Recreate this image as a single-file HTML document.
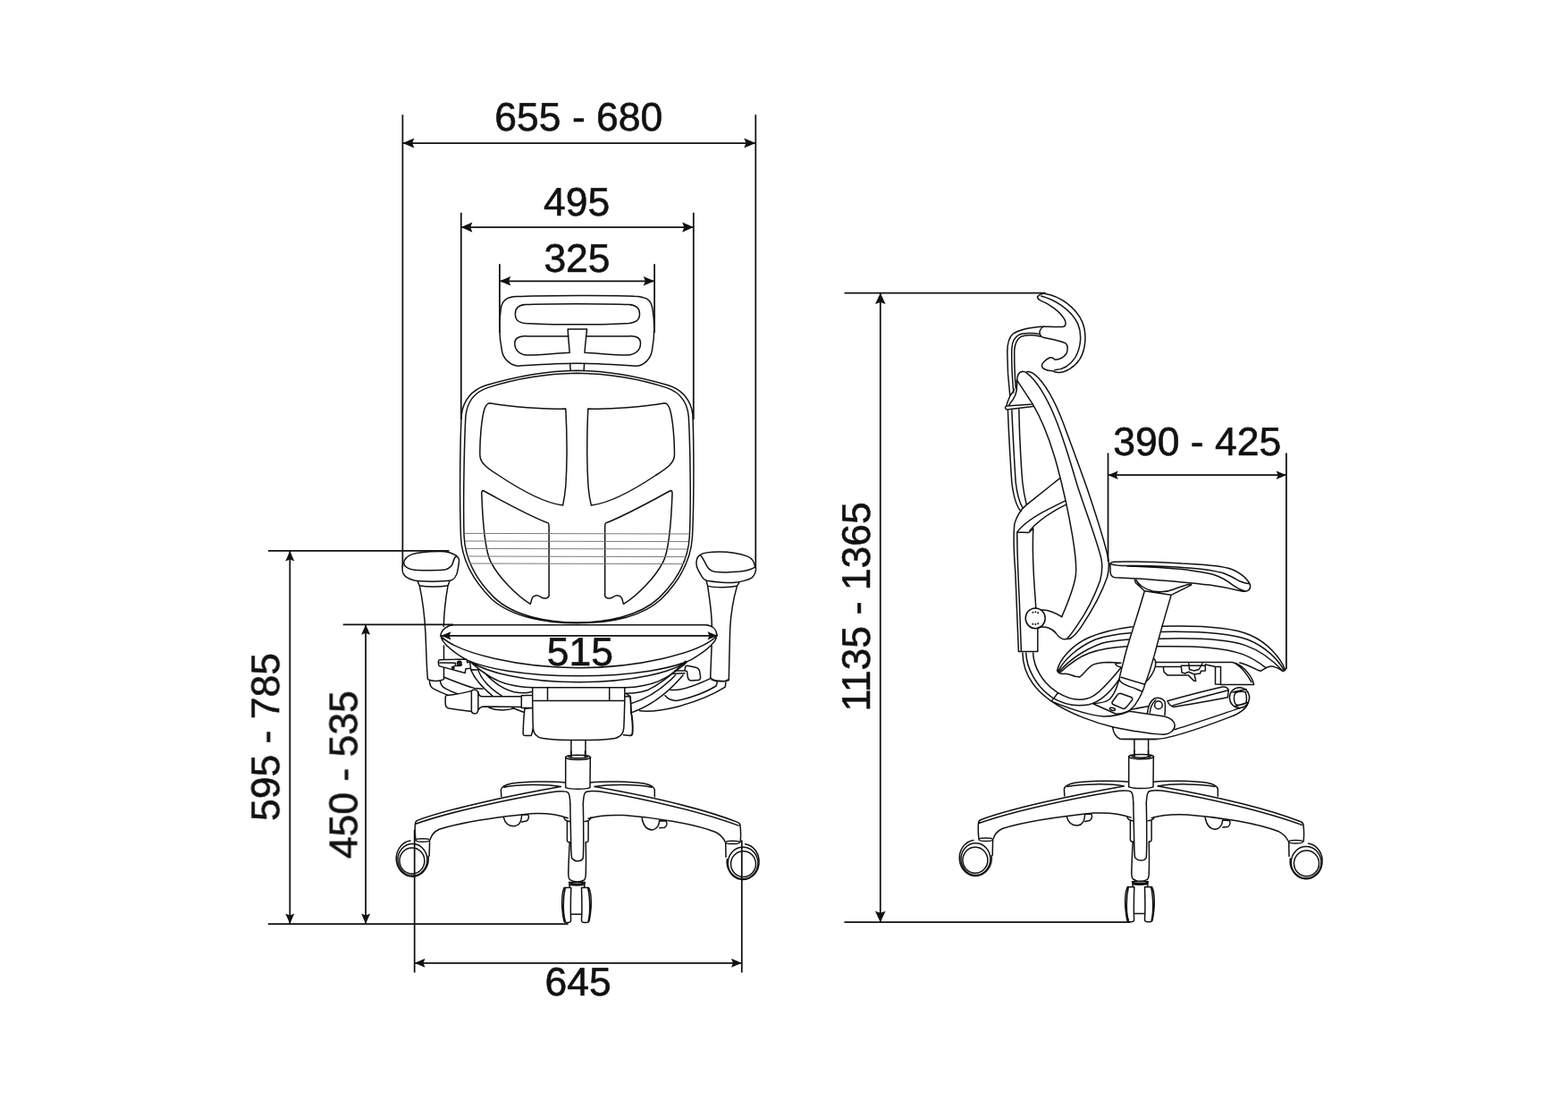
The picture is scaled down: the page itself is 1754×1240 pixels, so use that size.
<!DOCTYPE html>
<html lang="en"><head><meta charset="utf-8"><title>Chair dimensions</title>
<style>
html,body{margin:0;padding:0;background:#fff;}
body{width:1754px;height:1240px;overflow:hidden;}
svg{display:block;}
.c{fill:none;stroke:#111;stroke-width:1.5;stroke-linecap:round;stroke-linejoin:round;}
.g{fill:none;stroke:#7a7a7a;stroke-width:1.0;}
.k{fill:#111;stroke:none;}
.d{fill:none;stroke:#111;stroke-width:1.75;}
.a{fill:#111;stroke:none;}
.t{font-family:"Liberation Sans","DejaVu Sans",sans-serif;fill:#111;stroke:#111;stroke-width:0.6;text-anchor:middle;opacity:0.999;text-rendering:geometricPrecision;}
</style></head><body>
<svg width="1754" height="1240" viewBox="0 0 1754 1240">
<rect width="1754" height="1240" fill="#fff"/>
<g class="c">
<path d="M 577.8,331.6 C 599.7,330.4 689.5,330.0 709.5,331.2 C 721.4,331.6 728.4,334.0 730.0,345.9 C 732.4,359.9 732.4,375.9 729.4,391.8 C 727.8,401.8 719.5,408.8 712.5,409.2 C 689.5,407.8 669.6,406.2 645.6,406.2 C 621.7,406.2 601.7,407.8 579.8,409.2 C 571.8,408.8 562.8,401.8 561.4,391.8 C 558.2,375.9 558.2,359.9 560.2,345.9 C 561.4,335.0 567.8,332.0 577.8,331.6 Z M 587.7,340.6 C 609.7,339.4 681.5,339.4 703.5,340.6 C 712.5,341.2 715.5,344.9 715.5,350.9 C 715.5,357.9 711.5,360.5 703.5,361.5 C 681.5,363.3 609.7,363.3 587.7,361.5 C 579.8,360.5 576.4,357.9 576.4,350.9 C 576.4,344.9 579.4,341.2 587.7,340.6 Z M 636.0,376.1 L 589.7,375.9 C 580.8,375.5 575.8,377.9 575.8,383.9 C 575.8,390.8 580.8,396.8 589.7,397.0 C 605.7,396.8 621.7,395.0 637.2,394.2 M 655.6,376.1 L 703.5,375.9 C 712.5,375.5 716.5,377.9 716.5,383.9 C 716.5,390.8 711.5,396.8 701.5,397.0 C 685.5,396.8 669.6,395.0 654.0,394.2 M 637.2,394.2 C 636.6,385.9 635.6,377.9 635.2,367.9 L 656.6,367.9 C 655.6,377.9 654.6,385.9 654.0,394.2 M 637.6,406.4 L 638.2,413.8 M 653.6,406.4 L 653.2,413.8 M 547.8,450.7 C 569.8,454.7 609.7,458.1 632.8,456.9 C 634.0,479.6 634.4,519.6 632.8,543.5 C 632.0,553.5 630.8,559.5 629.6,565.1 C 609.7,562.5 581.8,547.5 557.8,531.5 C 543.8,522.6 537.5,517.6 536.9,509.6 C 536.5,491.6 538.8,467.7 541.8,457.7 C 543.4,452.7 544.8,450.7 547.8,450.7 Z M 743.4,450.7 C 721.4,454.7 681.5,458.1 657.8,456.9 C 656.8,479.6 656.4,519.6 658.0,543.5 C 658.8,553.5 660.0,559.5 661.4,565.1 C 681.5,562.5 709.5,547.5 733.4,531.5 C 747.4,522.6 753.8,517.6 754.4,509.6 C 754.8,491.6 752.4,467.7 749.4,457.7 C 747.8,452.7 746.4,450.7 743.4,450.7 Z M 645.6,414.2 C 609.7,414.8 573.8,421.8 543.8,430.8 C 527.9,435.8 517.9,447.8 516.3,463.7 C 514.7,490.1 513.9,559.9 515.5,599.8 C 516.3,623.8 527.9,647.7 549.8,669.7 C 573.8,691.2 613.7,696.8 645.6,696.8 M 645.6,414.2 C 681.5,414.8 717.5,421.8 747.4,430.8 C 763.4,435.8 773.3,447.8 774.9,463.7 C 776.1,490.1 776.5,559.9 774.5,599.8 C 773.3,623.8 761.8,647.7 739.8,669.7 C 716.5,691.2 677.5,696.8 645.6,696.8 M 645.6,417.2 C 609.7,417.8 573.8,424.2 545.8,433.4 C 529.9,438.8 522.3,449.8 520.9,465.7 C 519.5,490.1 517.9,559.9 519.1,599.8 C 520.3,623.8 530.9,646.7 552.8,668.1 C 574.8,689.2 613.7,696.0 645.6,696.0 M 645.6,417.2 C 681.5,417.8 717.5,424.2 745.4,433.4 C 761.4,438.8 768.9,449.8 770.3,465.7 C 771.7,490.1 773.3,559.9 771.3,599.8 C 770.1,623.8 759.6,646.7 737.6,668.1 C 715.7,689.2 677.5,696.0 645.6,696.0 M 540.2,548.5 C 563.8,560.9 589.7,575.9 613.3,584.9 C 614.1,585.9 614.1,586.9 614.1,588.8 L 614.1,666.7 C 612.7,669.3 608.7,670.1 604.7,667.3 C 600.7,664.7 596.7,665.7 595.3,668.7 C 594.1,671.7 594.1,673.7 593.3,675.3 C 577.8,665.7 557.8,645.7 548.8,627.8 C 541.8,613.8 539.8,579.9 538.8,551.9 C 538.8,549.5 539.2,548.5 540.2,548.5 Z M 750.4,548.5 C 726.8,560.9 700.9,575.9 677.5,584.9 C 676.7,585.9 676.7,586.9 676.7,588.8 L 676.7,666.7 C 678.1,669.3 682.1,670.1 686.1,667.3 C 690.1,664.7 694.1,665.7 695.5,668.7 C 696.7,671.7 696.7,673.7 697.5,675.3 C 713.1,665.7 733.0,645.7 742.0,627.8 C 749.0,613.8 751.0,579.9 752.0,551.9 C 752.0,549.5 751.6,548.5 750.4,548.5 Z M 451.6,629.7 C 452.0,625.9 455.6,621.9 460.6,619.9 C 466.6,617.9 479.5,616.7 491.9,616.5 C 499.5,616.5 506.5,618.3 510.9,621.7 C 508.5,622.9 507.5,625.9 506.9,628.5 C 506.1,631.9 503.5,635.5 497.7,637.1 C 493.5,637.9 469.6,637.9 463.6,637.3 C 457.6,636.7 452.6,634.3 451.6,629.7 Z M 450.2,632.9 C 450.0,636.9 450.2,639.9 451.0,641.1 C 452.0,643.9 454.6,646.9 463.6,649.1 C 471.6,650.5 495.5,650.5 503.5,649.1 C 507.5,648.3 510.5,643.9 511.5,639.9 C 512.5,634.9 513.5,629.9 513.5,625.9 C 513.1,623.9 511.9,622.5 510.9,621.7 M 467.0,649.7 C 468.0,652.3 468.8,653.9 469.2,654.7 C 477.5,656.5 491.5,656.5 501.1,654.7 C 501.7,653.5 502.3,651.9 502.9,649.7 M 469.2,654.7 C 472.6,669.8 475.1,689.8 476.1,709.7 C 476.9,729.7 477.1,745.7 478.5,759.6 C 484.5,762.0 490.5,762.0 496.5,759.6 L 496.5,746.9 M 496.5,737.3 L 496.5,721.9 M 496.3,700.6 C 496.7,683.8 499.1,665.8 501.1,654.7 M 783.2,620.5 C 785.8,618.5 795.7,617.1 804.9,617.1 C 815.7,617.1 829.7,619.9 836.3,622.1 C 840.6,623.9 844.0,627.9 844.6,634.1 C 841.6,636.3 833.7,638.3 827.7,639.1 C 819.7,639.9 805.7,639.9 799.1,639.3 C 794.7,638.3 792.2,635.5 791.2,633.7 C 789.4,630.5 786.8,624.9 785.0,622.7 C 784.4,621.9 783.8,621.1 783.2,620.5 Z M 783.2,620.5 C 780.8,621.5 779.4,623.9 779.0,628.5 C 778.8,631.9 779.4,634.9 780.8,636.9 C 782.8,640.9 784.2,642.9 785.0,644.5 C 786.2,646.9 788.8,648.7 790.8,649.3 C 799.7,651.1 815.7,651.9 822.1,651.3 C 827.7,650.9 837.7,648.3 840.8,646.1 C 843.6,643.9 845.2,639.9 845.6,636.5 L 845.4,634.1 M 790.2,649.7 C 790.8,651.9 791.2,653.9 791.6,655.1 C 799.7,657.3 815.7,657.3 824.5,655.1 C 825.3,653.9 826.1,652.5 826.7,651.3 M 791.6,655.1 C 793.7,669.8 796.3,683.8 796.3,700.6 M 796.1,722.3 C 795.7,733.7 795.1,745.7 794.7,757.6 C 797.7,761.6 811.7,762.6 815.3,760.6 C 815.7,741.7 816.1,719.7 816.7,701.8 C 817.7,683.8 820.9,667.8 824.5,655.1 M 507.8,698.8 L 789.3,698.8 C 796.4,699.1 801.4,703.5 802.1,710.7 M 507.8,698.8 C 501.4,698.8 493.5,703.5 492.8,711.1 M 492.8,711.1 C 512.8,731.3 584.0,746.7 647.5,746.7 C 710.9,746.7 782.1,731.3 802.1,710.7 M 493.5,713.1 C 496.4,720.6 507.1,729.2 521.6,737.6 C 541.3,747.0 584.0,755.8 647.5,755.8 C 710.9,755.8 753.6,747.0 773.3,737.6 C 787.8,729.2 798.5,720.6 801.4,713.1 M 526.4,740.0 C 544.1,751.3 584.0,762.7 647.5,762.7 C 710.9,762.7 750.8,751.3 768.5,740.0 M 528.0,741.6 C 541.3,753.4 558.4,764.1 574.9,766.5 C 584.0,768.1 589.7,768.7 595.4,768.7 L 699.8,768.7 C 706.6,768.7 712.3,768.1 720.0,766.5 C 736.5,764.1 753.6,753.4 766.9,741.6 M 526.7,748.9 C 530.6,758.4 538.4,767.7 550.7,777.9 M 534.7,748.9 C 538.4,759.1 547.0,769.1 561.1,777.9 M 543.4,753.7 C 551.2,762.0 562.6,770.5 574.9,773.8 C 582.6,775.2 589.7,775.2 594.7,773.5 M 526.7,748.7 L 534.7,748.9 M 595.7,768.7 L 595.7,783.4 M 612.5,768.7 L 612.5,783.4 M 681.7,768.7 L 681.7,783.4 M 698.8,768.7 L 698.8,783.4 M 595.7,783.4 L 698.8,783.4 M 595.7,783.4 C 595.9,796.9 596.0,806.9 596.3,814.0 C 596.9,821.8 601.1,824.7 606.8,825.4 C 626.8,828.3 669.5,828.3 688.1,825.4 C 694.5,824.0 697.3,820.4 697.8,814.0 C 698.3,804.0 698.6,792.6 698.8,783.4 M 586.9,792.6 L 595.4,791.5 M 586.9,792.6 C 585.7,804.0 585.2,814.0 585.2,821.1 C 585.5,822.3 586.2,822.6 587.6,822.6 L 594.0,822.6 C 595.1,821.1 595.7,816.9 596.3,814.0 M 699.5,778.4 L 705.2,779.1 C 705.9,786.9 705.9,795.5 706.6,801.2 C 707.5,806.9 707.7,815.4 707.3,821.1 C 706.6,822.6 705.9,822.6 704.5,822.6 L 697.3,821.8 M 638.9,827.5 L 638.9,845.4 M 655.0,827.5 L 655.0,845.4 M 499.6,777.4 C 507.1,776.7 518.5,775.2 527.4,772.4 C 528.2,771.5 529.6,771.1 531.3,771.2 C 533.6,771.5 534.7,773.4 534.9,775.5 L 534.9,793.3 C 534.7,796.2 533.9,797.9 531.3,797.9 C 529.0,797.9 528.0,796.9 527.4,795.6 L 502.1,792.1 C 499.2,791.5 498.2,789.1 498.2,786.2 L 498.2,780.1 C 498.2,778.7 498.8,777.7 499.6,777.4 Z M 527.4,772.4 L 527.4,795.6 M 534.9,773.4 C 535.3,776.2 536.3,778.4 538.7,778.8 L 583.3,778.7 M 534.9,794.3 C 535.8,791.9 538.4,790.2 542.0,790.1 L 583.3,790.5 M 583.3,777.7 L 595.4,777.2 M 583.3,777.7 L 583.3,791.5 L 595.4,791.5 M 547.0,791.2 C 555.5,794.8 566.9,794.8 575.5,791.9 M 572.6,791.2 L 585.7,796.2 M 491.8,737.7 L 520.2,736.9 C 521.0,736.9 521.6,737.0 522.0,737.3 L 522.9,740.9 L 525.6,740.0 L 526.6,747.3 L 521.0,747.7 L 520.2,752.6 C 512.8,750.6 505.6,748.7 497.4,746.4 C 494.2,745.6 492.1,745.2 491.4,744.7 C 490.4,743.9 490.1,739.9 490.7,738.5 C 491.0,738.0 491.4,737.7 491.8,737.7 Z M 491.8,741.0 L 509.2,741.2 L 509.6,742.3 L 509.2,744.6 L 505.6,746.0 M 509.2,744.6 L 514.6,744.6 L 516.5,743.3"/>
<ellipse cx="513.8" cy="741.5" rx="2.3" ry="2.3"/>
<ellipse cx="513.8" cy="741.5" rx="0.9" ry="0.9"/>
<ellipse cx="506.9" cy="746.9" rx="1.1" ry="1.1"/>
<path d="M 480.5,761.0 C 480.5,765.5 482.1,768.4 484.5,769.8 C 490.0,772.7 495.7,775.2 500.6,777.1 M 492.5,761.0 C 492.8,765.5 494.9,768.1 498.2,769.8 C 502.8,772.2 507.1,774.1 511.2,775.5 M 497.1,757.3 C 507.1,761.3 519.9,766.5 530.4,769.4 L 540.1,770.2 M 768.9,744.2 L 778.2,746.3 C 781.0,747.0 782.4,748.4 782.7,751.3 L 783.6,757.0 C 783.6,759.6 782.4,760.6 780.3,760.6 L 772.5,761.0 C 770.3,760.6 769.6,759.1 769.3,757.0 L 768.5,750.6 L 766.0,749.9 L 766.8,744.9 Z M 754.6,749.9 L 766.0,749.9 M 751.1,753.4 L 766.0,752.7 M 766.8,739.2 C 756.8,749.9 739.7,764.1 725.4,771.2 C 716.9,774.4 708.3,775.2 700.5,775.2 M 755.4,754.9 C 745.4,765.5 728.3,779.8 705.5,786.9 M 763.9,754.9 C 753.9,767.0 734.0,786.9 706.2,796.9 M 699.8,775.2 L 704.8,778.4 C 705.8,784.1 705.5,792.6 705.8,796.9 C 707.6,801.2 708.0,811.2 707.6,819.7 C 707.2,821.8 706.2,822.6 704.8,822.6 M 744.0,777.7 C 746.8,781.2 751.1,783.4 756.8,783.4 C 771.0,781.2 789.6,774.1 801.0,767.0 C 801.7,765.5 802.1,764.1 802.1,762.7 M 749.7,771.2 C 756.8,772.7 771.0,769.8 795.3,758.4 M 715.5,794.8 C 728.3,796.2 742.5,794.0 756.8,790.5 C 778.2,784.8 799.5,775.5 810.9,768.4 C 811.7,767.0 811.8,764.8 811.7,762.7 M 796.0,759.8 C 799.5,762.0 810.9,763.0 814.5,759.8"/>
<ellipse cx="646.6" cy="846.8" rx="14.0" ry="2.6"/>
<path d="M 638.8,840.0 L 638.8,846.0 M 654.5,840.0 L 654.5,846.0 M 636.0,846.4 C 640.9,848.3 652.3,848.3 657.3,846.4 M 632.7,846.8 L 632.7,880.6 C 638.1,882.8 655.2,882.8 660.0,880.6 L 660.3,846.8 M 632.4,874.9 C 615.3,873.1 586.8,873.9 572.5,875.9 C 565.4,877.3 561.1,879.6 560.4,882.8 L 560.8,890.6 M 564.0,880.2 C 579.7,876.8 612.4,876.8 627.4,879.6 M 660.3,874.9 C 677.4,873.1 705.9,873.9 720.2,875.9 C 727.3,877.3 731.6,879.6 732.3,882.8 L 732.3,891.0 M 728.7,880.2 C 713.1,876.8 680.3,876.8 665.3,879.6 M 464.4,922.0 C 464.4,919.5 465.1,918.1 466.8,917.4 C 501.3,904.4 572.5,889.2 627.4,879.6 M 465.6,921.0 C 501.3,908.1 572.5,892.7 615.3,885.9 C 626.7,884.2 633.1,883.9 635.5,886.3 C 637.4,888.5 637.7,894.2 637.8,899.0 M 464.4,922.0 C 464.1,926.9 464.2,932.6 464.9,938.3 M 481.3,938.3 C 482.5,934.1 485.6,929.8 491.3,927.2 C 515.5,919.8 558.3,913.4 593.9,909.8 C 608.2,909.1 623.8,910.6 635.2,914.8"/>
<ellipse cx="472.8" cy="939.5" rx="7.8" ry="1.7"/>
<path d="M 480.6,939.8 L 480.2,956.9 M 828.1,924.1 C 828.1,922.0 827.4,920.2 825.1,919.4 C 786.3,904.1 719.3,889.2 665.3,879.6 M 826.2,923.1 C 786.3,908.1 719.3,892.7 677.4,885.9 C 666.0,884.2 656.9,883.9 654.6,886.3 C 652.8,888.5 652.5,894.2 652.3,899.0 M 828.1,924.1 C 828.7,929.8 828.7,936.9 828.1,941.5 M 811.3,941.5 C 809.1,936.9 806.3,933.4 800.6,930.5 C 776.4,921.2 733.6,914.1 698.0,911.6 C 683.7,911.0 668.0,912.0 658.1,915.3"/>
<ellipse cx="819.5" cy="941.9" rx="7.8" ry="1.7"/>
<path d="M 811.7,941.9 L 812.0,958.3 M479.1,957.2 A18.0 20.1 0 1 1 458.9,940.1"/>
<ellipse cx="461.4" cy="961.3" rx="16.5" ry="17.8"/>
<ellipse cx="460.9" cy="962.4" rx="14.0" ry="14.5"/>
<path d="M833.6,943.7 A18.0 20.0 0 1 1 813.3,960.7"/>
<ellipse cx="831.1" cy="965.0" rx="16.8" ry="17.8"/>
<ellipse cx="831.5" cy="966.1" rx="14.0" ry="14.3"/>
<path d="M 563.3,913.8 C 564.7,919.8 569.0,923.8 575.4,923.8 C 580.4,923.4 583.2,919.1 583.6,912.0 M 583.9,911.0 L 590.3,910.7 C 592.2,912.7 591.8,916.3 588.9,918.1 L 583.6,919.1 M 718.1,914.8 C 719.5,922.7 723.6,927.7 729.7,927.9 C 735.0,926.9 737.3,923.4 737.6,917.7 M 737.6,917.7 L 745.0,918.1 C 746.7,920.5 746.1,923.4 743.6,925.2 L 737.9,925.8 M 637.8,899.0 C 638.1,914.1 638.5,932.6 638.7,942.6 C 638.8,951.2 639.0,955.5 639.5,959.0 C 642.4,964.0 650.2,964.0 652.3,959.4 C 652.8,951.2 652.8,932.6 652.6,914.1 L 652.3,899.0 M 637.2,941.6 C 636.7,951.2 636.0,965.4 635.8,976.5 C 635.8,980.4 636.4,982.5 637.5,983.7 C 642.4,986.5 648.8,986.5 653.5,984.0 C 654.9,982.5 655.3,980.4 655.3,976.5 C 655.6,965.4 655.5,951.2 655.2,941.6 M 631.0,914.1 C 631.4,916.7 633.1,918.1 637.2,918.4 M 661.0,914.1 C 660.5,917.0 658.8,918.2 654.2,918.4 M 634.4,918.4 L 634.4,939.8 C 634.7,941.5 636.0,941.9 637.2,941.6 M 658.1,918.4 L 658.1,939.8 C 657.8,941.5 656.6,941.9 655.2,941.6 M 636.4,986.4 L 654.5,986.4 M 636.8,986.4 L 637.2,992.4 M 654.1,986.4 L 653.7,992.4 M 636.8,987.6 C 641.6,988.6 649.5,988.6 654.1,987.6 M 637.2,989.2 C 641.6,990.0 649.5,990.0 653.7,989.2 M 631.2,992.4 L 638.8,992.4 C 638.4,1003.8 638.2,1019.7 638.6,1029.3 C 638.2,1031.1 637.2,1031.5 635.6,1031.5 L 633.2,1031.5 C 632.0,1031.5 631.2,1030.9 630.8,1029.7 C 628.8,1019.7 628.2,1007.8 629.2,999.8 C 629.6,996.8 630.4,994.2 631.2,992.4 Z M 632.2,993.2 C 630.6,999.8 630.0,1011.8 630.6,1020.7 C 631.0,1024.7 631.6,1027.7 632.4,1029.7 M 658.5,992.4 L 650.5,992.4 C 650.9,1003.8 651.1,1019.7 650.5,1029.3 C 650.9,1031.1 651.9,1031.5 653.5,1031.5 L 656.3,1031.5 C 657.7,1031.5 658.7,1030.9 659.1,1029.7 C 661.1,1019.7 661.7,1007.8 660.7,999.8 C 660.3,996.8 659.5,994.2 658.5,992.4 Z M 657.7,993.2 C 659.3,999.8 659.9,1011.8 659.5,1020.7 C 659.1,1024.7 658.7,1027.7 658.1,1029.7 M 638.8,1022.3 L 650.5,1022.3"/>
<ellipse cx="1276.6" cy="846.1" rx="14.0" ry="2.6"/>
<path d="M 1268.8,839.3 L 1268.8,845.3 M 1284.5,839.3 L 1284.5,845.3 M 1266.0,845.7 C 1270.9,847.6 1282.3,847.6 1287.3,845.7 M 1262.7,846.1 L 1262.7,879.9 C 1268.1,882.1 1285.2,882.1 1290.0,879.9 L 1290.3,846.1 M 1262.4,874.2 C 1245.3,872.4 1216.8,873.2 1202.5,875.2 C 1195.4,876.6 1191.1,878.9 1190.4,882.1 L 1190.8,889.9 M 1194.0,879.5 C 1209.7,876.1 1242.4,876.1 1257.4,878.9 M 1290.3,874.2 C 1307.4,872.4 1335.9,873.2 1350.2,875.2 C 1357.3,876.6 1361.6,878.9 1362.3,882.1 L 1362.3,890.3 M 1358.7,879.5 C 1343.1,876.1 1310.3,876.1 1295.3,878.9 M 1094.4,921.3 C 1094.4,918.8 1095.1,917.4 1096.8,916.7 C 1131.3,903.7 1202.5,888.5 1257.4,878.9 M 1095.6,920.3 C 1131.3,907.4 1202.5,892.0 1245.3,885.2 C 1256.7,883.5 1263.1,883.2 1265.5,885.6 C 1267.4,887.8 1267.7,893.5 1267.8,898.3 M 1094.4,921.3 C 1094.1,926.2 1094.2,931.9 1094.9,937.6 M 1111.3,937.6 C 1112.5,933.4 1115.6,929.1 1121.3,926.5 C 1145.5,919.1 1188.3,912.7 1223.9,909.1 C 1238.2,908.4 1253.8,909.9 1265.2,914.1"/>
<ellipse cx="1102.8" cy="938.8" rx="7.8" ry="1.7"/>
<path d="M 1110.6,939.1 L 1110.2,956.2 M 1458.1,923.4 C 1458.1,921.3 1457.4,919.5 1455.1,918.7 C 1416.3,903.4 1349.3,888.5 1295.3,878.9 M 1456.2,922.4 C 1416.3,907.4 1349.3,892.0 1307.4,885.2 C 1296.0,883.5 1286.9,883.2 1284.6,885.6 C 1282.8,887.8 1282.5,893.5 1282.3,898.3 M 1458.1,923.4 C 1458.7,929.1 1458.7,936.2 1458.1,940.8 M 1441.3,940.8 C 1439.1,936.2 1436.3,932.7 1430.6,929.8 C 1406.4,920.5 1363.6,913.4 1328.0,910.9 C 1313.7,910.3 1298.0,911.3 1288.1,914.6"/>
<ellipse cx="1449.5" cy="941.2" rx="7.8" ry="1.7"/>
<path d="M 1441.7,941.2 L 1442.0,957.6 M1109.1,956.5 A18.0 20.1 0 1 1 1088.9,939.4"/>
<ellipse cx="1091.4" cy="960.6" rx="16.5" ry="17.8"/>
<ellipse cx="1090.9" cy="961.7" rx="14.0" ry="14.5"/>
<path d="M1463.6,943.0 A18.0 20.0 0 1 1 1443.3,960.0"/>
<ellipse cx="1461.1" cy="964.3" rx="16.8" ry="17.8"/>
<ellipse cx="1461.5" cy="965.4" rx="14.0" ry="14.3"/>
<path d="M 1193.3,913.1 C 1194.7,919.1 1199.0,923.1 1205.4,923.1 C 1210.4,922.7 1213.2,918.4 1213.6,911.3 M 1213.9,910.3 L 1220.3,910.0 C 1222.2,912.0 1221.8,915.6 1218.9,917.4 L 1213.6,918.4 M 1348.1,914.1 C 1349.5,922.0 1353.6,927.0 1359.7,927.2 C 1365.0,926.2 1367.3,922.7 1367.6,917.0 M 1367.6,917.0 L 1375.0,917.4 C 1376.7,919.8 1376.1,922.7 1373.6,924.5 L 1367.9,925.1 M 1267.8,898.3 C 1268.1,913.4 1268.5,931.9 1268.7,941.9 C 1268.8,950.5 1269.0,954.8 1269.5,958.3 C 1272.4,963.3 1280.2,963.3 1282.3,958.7 C 1282.8,950.5 1282.8,931.9 1282.6,913.4 L 1282.3,898.3 M 1267.2,940.9 C 1266.7,950.5 1266.0,964.7 1265.8,975.8 C 1265.8,979.7 1266.4,981.8 1267.5,983.0 C 1272.4,985.8 1278.8,985.8 1283.5,983.3 C 1284.9,981.8 1285.3,979.7 1285.3,975.8 C 1285.6,964.7 1285.5,950.5 1285.2,940.9 M 1261.0,913.4 C 1261.4,916.0 1263.1,917.4 1267.2,917.7 M 1291.0,913.4 C 1290.5,916.3 1288.8,917.5 1284.2,917.7 M 1264.4,917.7 L 1264.4,939.1 C 1264.7,940.8 1266.0,941.2 1267.2,940.9 M 1288.1,917.7 L 1288.1,939.1 C 1287.8,940.8 1286.6,941.2 1285.2,940.9 M 1266.4,985.7 L 1284.5,985.7 M 1266.8,985.7 L 1267.2,991.7 M 1284.1,985.7 L 1283.7,991.7 M 1266.8,986.9 C 1271.6,987.9 1279.5,987.9 1284.1,986.9 M 1267.2,988.5 C 1271.6,989.3 1279.5,989.3 1283.7,988.5 M 1261.2,991.7 L 1268.8,991.7 C 1268.4,1003.1 1268.2,1019.0 1268.6,1028.6 C 1268.2,1030.4 1267.2,1030.8 1265.6,1030.8 L 1263.2,1030.8 C 1262.0,1030.8 1261.2,1030.2 1260.8,1029.0 C 1258.8,1019.0 1258.2,1007.1 1259.2,999.1 C 1259.6,996.1 1260.4,993.5 1261.2,991.7 Z M 1262.2,992.5 C 1260.6,999.1 1260.0,1011.1 1260.6,1020.0 C 1261.0,1024.0 1261.6,1027.0 1262.4,1029.0 M 1288.5,991.7 L 1280.5,991.7 C 1280.9,1003.1 1281.1,1019.0 1280.5,1028.6 C 1280.9,1030.4 1281.9,1030.8 1283.5,1030.8 L 1286.3,1030.8 C 1287.7,1030.8 1288.7,1030.2 1289.1,1029.0 C 1291.1,1019.0 1291.7,1007.1 1290.7,999.1 C 1290.3,996.1 1289.5,993.5 1288.5,991.7 Z M 1287.7,992.5 C 1289.3,999.1 1289.9,1011.1 1289.5,1020.0 C 1289.1,1024.0 1288.7,1027.0 1288.1,1029.0 M 1268.8,1021.6 L 1280.5,1021.6 M 1160.4,332.0 C 1162.8,329.0 1166.7,328.0 1169.7,328.4 C 1185.7,331.0 1203.7,343.9 1210.6,359.9 C 1215.6,371.9 1215.2,389.8 1207.7,401.8 C 1201.7,410.8 1191.7,416.8 1183.7,416.4 C 1180.7,416.2 1178.7,415.4 1177.7,414.8 M 1164.7,331.0 C 1179.7,334.9 1197.7,345.9 1205.7,361.9 C 1210.6,373.9 1209.2,388.8 1202.7,399.8 C 1196.7,408.8 1187.7,413.4 1179.7,413.8 M 1160.4,332.0 C 1160.8,333.9 1161.8,334.9 1163.7,335.9 C 1173.7,339.9 1185.7,347.9 1190.7,356.9 C 1192.7,360.9 1192.7,363.9 1189.7,365.3 C 1183.7,365.9 1173.7,365.1 1167.7,364.9 M 1167.7,364.9 C 1163.7,366.9 1162.2,370.9 1163.4,373.9 C 1164.1,376.3 1165.7,377.1 1167.7,377.5 C 1177.7,379.4 1187.7,381.4 1192.1,383.8 C 1194.7,385.8 1194.7,391.8 1192.7,395.8 C 1189.7,399.8 1184.7,402.2 1180.1,402.2 C 1178.7,400.8 1177.7,399.4 1174.7,399.8 C 1169.7,401.8 1165.7,405.8 1165.3,408.8 C 1165.7,412.2 1169.7,414.2 1177.7,414.8 M 1167.7,364.9 C 1153.8,365.9 1139.8,368.3 1132.8,373.5 C 1128.2,377.9 1126.8,385.8 1126.8,393.8 C 1126.8,409.8 1128.2,429.7 1129.8,442.7 M 1163.4,373.9 C 1157.8,372.3 1145.8,371.9 1139.8,374.3 C 1134.8,376.9 1132.2,382.8 1131.8,389.8 C 1131.4,405.8 1132.6,425.7 1133.8,438.7 M 1164.7,376.3 C 1157.8,374.3 1147.8,373.9 1142.2,376.3 C 1137.8,378.8 1135.4,383.8 1134.8,390.8 C 1134.4,403.8 1135.4,421.8 1136.2,433.7 M 1129.8,442.7 C 1129.2,445.3 1127.0,448.1 1126.0,453.3 M 1129.8,442.7 C 1131.8,440.1 1133.8,437.7 1134.6,435.3 M 1137.4,424.7 C 1138.0,431.7 1137.4,437.7 1135.8,441.7 C 1133.8,446.7 1130.8,450.1 1128.6,452.9 M 1125.4,454.1 L 1154.8,451.9 C 1156.2,452.5 1156.2,453.7 1155.4,454.5 L 1126.2,457.9 C 1124.2,457.3 1124.2,454.9 1125.4,454.1 Z M 1137.8,425.3 C 1137.8,419.8 1140.2,415.8 1143.8,415.2 C 1145.8,415.2 1147.8,416.2 1149.4,417.8 M 1137.8,425.3 L 1155.4,452.1 M 1148.8,415.8 C 1151.8,414.8 1155.8,416.8 1161.8,422.8 C 1173.7,435.7 1184.1,457.7 1192.5,481.6 C 1202.9,509.6 1213.2,537.5 1217.2,549.5 C 1225.2,573.4 1237.0,609.3 1239.8,625.3 C 1240.8,631.3 1240.6,637.3 1238.6,645.3 C 1234.4,657.2 1224.0,679.2 1210.0,700.1 C 1206.1,706.1 1202.1,711.1 1197.7,713.5 M 1149.4,417.8 C 1157.8,423.7 1169.7,441.7 1179.7,465.7 C 1189.7,489.6 1197.7,517.5 1204.7,541.5 C 1213.6,569.4 1227.6,605.4 1232.0,625.3 C 1233.6,633.3 1233.2,639.3 1230.6,649.3 C 1225.6,663.2 1217.6,681.2 1205.7,698.1 C 1201.7,704.1 1197.7,710.1 1194.1,713.5 M 1155.4,452.1 C 1165.7,469.6 1175.7,495.6 1182.7,521.5 C 1189.7,547.5 1195.7,575.4 1199.7,599.4 C 1203.3,621.3 1204.7,633.3 1203.3,643.3 C 1201.7,655.2 1195.7,671.2 1187.7,689.6 M 1127.4,457.9 C 1128.2,479.6 1129.8,509.6 1131.8,539.5 C 1133.8,555.5 1137.8,567.4 1142.2,571.8 M 1131.8,458.3 C 1132.8,479.6 1134.2,509.6 1136.2,539.5 C 1137.8,552.5 1140.8,562.4 1143.8,567.4 M 1139.8,457.3 C 1140.2,479.6 1141.4,509.6 1143.8,539.5 C 1145.0,549.5 1146.6,557.5 1148.2,563.8 M 1134.8,585.9 C 1136.8,578.9 1141.8,569.9 1147.8,564.9 L 1177.7,541.0 L 1185.7,534.6 M 1137.8,594.9 C 1143.8,586.9 1157.8,576.9 1173.7,568.9 L 1190.7,560.4 M 1151.8,593.5 C 1157.8,585.9 1169.7,576.9 1181.7,569.9 L 1192.1,564.3 M 1137.8,594.9 L 1150.8,595.5 L 1155.8,590.9 M 1134.8,585.9 C 1133.4,599.9 1134.2,619.8 1135.8,639.8 C 1137.0,669.7 1138.4,699.6 1139.4,728.6 L 1160.8,728.6 L 1160.8,702.6 M 1137.8,595.5 C 1137.8,619.8 1139.2,649.8 1140.2,669.7 C 1141.0,691.7 1141.8,711.6 1142.4,728.6 M 1155.8,591.5 C 1155.0,605.9 1155.4,623.8 1156.2,639.8 C 1157.0,655.7 1158.2,669.7 1158.8,680.1"/>
<ellipse cx="1158.2" cy="691.3" rx="11.0" ry="11.4"/>
<path d="M 1164.7,682.1 C 1171.7,681.3 1179.7,684.7 1187.7,689.7 M 1161.8,701.6 C 1169.7,700.0 1177.7,702.6 1181.7,708.6 C 1184.7,712.6 1187.7,714.6 1190.7,714.8 L 1197.7,714.0 M 1241.8,630.2 C 1242.6,628.8 1244.0,628.4 1246.6,628.2 C 1259.5,627.6 1299.5,628.4 1322.4,630.0 C 1339.4,630.8 1361.3,632.2 1373.7,635.2 C 1385.3,638.2 1395.2,646.8 1398.2,653.2 C 1399.2,656.7 1398.2,659.7 1394.2,661.1 C 1392.2,661.5 1390.3,661.3 1389.1,661.1 C 1379.3,658.7 1361.3,655.3 1353.1,654.1 C 1329.4,651.2 1299.5,648.8 1281.3,647.4 L 1247.4,645.8 C 1244.0,645.2 1242.6,642.8 1242.2,640.8 Z M 1242.2,630.6 C 1247.6,632.6 1255.5,632.6 1260.7,632.6 C 1279.5,632.2 1309.4,633.4 1332.6,635.2 C 1349.3,636.6 1361.3,638.8 1368.5,640.8 C 1377.3,644.2 1383.3,647.8 1387.1,650.0 C 1391.2,651.8 1394.2,652.4 1397.6,652.8 M 1260.7,633.0 C 1279.5,633.4 1305.4,635.0 1322.4,636.6 C 1339.4,638.8 1351.3,640.8 1358.3,642.8 C 1367.3,645.8 1373.3,649.8 1378.9,654.1 C 1383.3,657.1 1388.3,659.7 1392.2,660.7 M 1269.5,648.0 C 1269.5,649.8 1269.7,650.8 1270.5,651.8 L 1280.3,660.7 L 1310.0,665.3 L 1332.6,654.1 C 1332.6,653.4 1331.8,653.0 1331.0,653.2 M 1271.1,648.6 C 1272.5,652.8 1279.5,658.7 1289.5,660.9 C 1299.5,662.7 1307.4,661.3 1313.4,658.7 C 1319.4,656.3 1325.4,654.1 1331.0,653.2 M 1280.3,660.8 C 1274.6,681.5 1265.3,708.6 1259.6,728.5 C 1256.8,739.9 1253.9,749.9 1251.8,759.9 M 1310.1,665.4 C 1305.5,681.5 1298.1,705.7 1292.4,728.5 C 1288.8,741.3 1285.3,754.2 1281.0,764.4 M 1254.2,757.3 L 1280.7,765.3 M 1251.8,759.9 C 1253.9,764.1 1261.0,767.0 1268.2,769.1 L 1277.0,773.0 M 1251.8,759.9 C 1249.6,768.4 1246.1,777.0 1241.1,782.0 C 1236.8,785.2 1229.7,786.4 1222.6,786.7 M 1281.0,764.4 C 1278.9,772.7 1274.6,781.2 1268.9,789.1 C 1264.6,794.8 1258.2,798.3 1248.2,798.3 L 1222.6,786.7 M 1253.2,775.3 C 1251.8,775.3 1250.8,775.8 1249.9,777.0 L 1244.2,784.8 C 1243.6,786.2 1244.2,787.2 1245.4,787.8 L 1256.0,792.4 C 1257.9,792.6 1258.9,791.9 1259.9,790.9 L 1266.5,782.7 C 1267.0,781.2 1266.7,780.1 1265.3,779.5 Z"/>
<ellipse cx="1244.4" cy="792.9" rx="3.1" ry="1.4" transform="rotate(15 1244.4 792.9)"/>
<path d="M 1291.3,736.8 C 1293.5,739.9 1293.1,744.2 1291.0,749.2 C 1288.8,754.2 1285.3,759.2 1282.4,761.6 M 1143.9,729.9 C 1144.2,747.0 1151.3,767.0 1176.2,784.1 C 1196.9,798.3 1225.4,808.3 1245.4,812.9 C 1268.2,817.6 1289.5,821.2 1300.9,821.2 C 1309.5,821.2 1314.5,815.5 1314.1,810.5 C 1313.5,804.8 1308.1,802.3 1302.4,800.9 L 1263.2,795.2 M 1147.7,729.9 C 1148.4,747.0 1158.4,767.0 1176.9,779.8 C 1189.8,787.7 1204.0,790.5 1218.3,787.7 C 1232.5,784.1 1244.6,770.6 1252.5,758.7 M 1155.6,729.9 C 1156.3,747.0 1167.0,764.1 1182.6,774.1 C 1196.9,782.7 1211.2,784.8 1222.6,778.4 C 1232.5,772.7 1245.4,757.0 1253.6,747.0 M 1183.4,774.8 L 1176.2,784.1 M 1176.2,784.1 C 1196.9,792.6 1218.3,799.8 1234.0,800.9 C 1243.9,801.2 1253.9,799.1 1263.2,795.2 M 1182.6,749.9 C 1184.8,738.5 1198.3,721.4 1218.3,712.8 C 1232.5,706.4 1249.6,702.9 1266.7,700.7 M 1183.4,751.0 C 1189.8,738.5 1204.0,724.2 1225.4,715.0 C 1238.2,710.7 1251.1,708.8 1264.6,707.8 M 1184.1,751.6 C 1192.6,742.0 1206.9,728.5 1232.5,719.2 C 1242.5,716.8 1252.5,715.7 1262.5,715.0 M 1185.2,752.5 C 1192.6,745.6 1204.0,735.6 1218.3,730.2 C 1232.5,725.4 1246.8,723.5 1260.3,722.8 M 1182.6,749.9 C 1183.4,752.0 1185.5,753.4 1189.8,753.4 C 1195.5,753.0 1198.3,754.9 1202.6,756.3 L 1207.6,757.0 C 1211.2,754.9 1215.4,748.5 1221.1,744.2 C 1225.4,741.6 1232.5,740.8 1241.1,740.6 L 1253.9,741.3 M 1253.9,741.3 L 1247.5,742.0 C 1248.2,743.9 1250.3,745.3 1253.9,745.9 M 1244.6,813.3 C 1245.4,818.3 1248.2,824.0 1253.2,826.3 L 1293.8,826.6 M 1268.9,826.9 L 1268.9,845.4 M 1284.6,826.9 L 1284.6,845.4 M 1299.9,700.3 C 1341.2,699.3 1378.3,701.4 1398.2,710.0 C 1418.2,718.5 1432.4,735.6 1437.9,749.2 M 1299.2,706.4 C 1341.2,705.7 1375.4,707.8 1395.4,715.0 C 1415.3,722.8 1429.6,737.1 1436.7,749.9 M 1297.0,714.3 C 1341.2,712.8 1372.6,715.0 1392.5,721.4 C 1411.1,727.8 1426.7,741.3 1435.3,750.6 M 1294.2,722.8 C 1341.2,722.1 1369.7,724.2 1389.7,731.4 C 1402.5,736.3 1411.1,742.8 1415.6,746.3 M 1437.9,749.2 L 1435.3,750.6 C 1431.0,747.7 1425.3,744.9 1421.0,745.0 C 1416.8,745.6 1413.9,748.5 1410.3,750.2 L 1406.8,749.2 M 1292.8,740.6 L 1378.3,740.5 C 1384.0,741.6 1391.1,745.6 1396.8,753.4 C 1400.4,758.4 1402.2,762.7 1402.5,765.6 L 1365.5,765.6 M 1348.3,743.0 L 1359.7,745.6 L 1365.5,745.6 L 1365.5,765.3 L 1359.5,764.9 L 1359.5,745.9 M 1381.1,741.3 C 1389.7,746.3 1395.4,754.2 1399.9,762.7 M 1386.8,741.0 C 1394.0,742.8 1401.1,746.3 1406.8,749.2 M 1293.5,745.6 L 1321.3,745.6 M 1301.3,745.9 L 1302.0,751.3 L 1305.9,754.9 L 1327.7,754.9 M 1321.3,744.2 L 1348.3,744.2 L 1348.3,749.9 L 1343.4,750.2 L 1342.6,753.0 L 1335.5,753.9 L 1329.8,751.3 L 1325.5,753.0 L 1322.0,752.0 Z M 1329.1,754.9 L 1335.5,761.3 L 1337.7,761.6 L 1336.2,754.9 M 1329.8,742.0 L 1330.5,748.5 L 1335.5,749.9 L 1341.2,748.5 L 1344.8,742.0"/>
<ellipse cx="1295.9" cy="788.4" rx="4.3" ry="4.3"/>
<path d="M 1283.5,797.2 C 1284.2,791.2 1286.3,784.1 1291.3,781.0 C 1295.6,779.5 1300.6,780.5 1303.0,784.4 C 1303.9,788.4 1303.4,794.1 1303.0,799.5 M 1286.3,796.9 C 1286.8,791.2 1288.8,786.2 1292.8,782.7 M 1305.9,783.8 C 1324.1,778.7 1349.8,772.0 1367.4,768.0 C 1370.4,767.6 1373.3,769.1 1374.3,771.6 L 1373.4,779.8 C 1356.9,782.7 1335.5,786.9 1312.7,790.4 C 1309.9,789.8 1307.3,786.9 1305.9,783.8 Z M 1311.7,788.9 C 1329.8,783.4 1352.6,777.0 1374.1,771.7 M 1264.3,793.4 L 1284.2,789.8"/>
<ellipse cx="1386.5" cy="780.1" rx="11.1" ry="11.4"/>
<path d="M 1381.8,774.8 C 1385.4,773.4 1389.7,773.0 1393.2,773.8 C 1394.7,778.4 1394.7,782.7 1393.7,786.2 C 1390.4,788.1 1385.4,788.7 1382.3,787.7 C 1380.0,784.1 1379.7,778.4 1381.8,774.8 Z M 1379.0,774.1 L 1394.0,770.6 M 1381.8,789.8 L 1395.4,785.5 M 1396.1,786.2 C 1394.0,792.6 1385.4,798.3 1375.4,801.9 C 1356.9,809.0 1335.5,816.9 1314.1,822.6 C 1307.0,824.7 1299.9,826.1 1292.8,826.6 L 1254.3,826.6 M 1386.8,791.9 C 1371.2,796.9 1342.6,806.9 1314.1,815.7"/>
</g>
<g class="g">
<path d="M 519.9,596.4 L 770.3,597.0 M 520.3,605.0 L 769.9,605.6 M 521.5,613.4 L 768.9,614.0 M 522.7,622.0 L 767.7,622.6 M 525.1,630.0 L 765.4,630.6"/>
</g>
<g class="k">
<ellipse cx="1155.4" cy="684.7" rx="1.0" ry="1.0"/>
<ellipse cx="1158.4" cy="684.3" rx="1.0" ry="1.0"/>
<ellipse cx="1161.2" cy="685.3" rx="1.0" ry="1.0"/>
<ellipse cx="1155.4" cy="697.7" rx="1.0" ry="1.0"/>
<ellipse cx="1158.4" cy="698.1" rx="1.0" ry="1.0"/>
<ellipse cx="1161.2" cy="697.3" rx="1.0" ry="1.0"/>
</g>
<path class="d" d="M450.4,128.3 L450.4,634.0 M845.3,128.3 L845.3,634.0 M450.4,160.0 L845.3,160.0 M515.8,237.7 L515.8,469.0 M775.8,237.7 L775.8,469.0 M515.8,254.1 L775.8,254.1 M558.9,295.2 L558.9,372.0 M732.1,295.2 L732.1,372.0 M558.9,314.3 L732.1,314.3 M493.5,710.8 L802.5,710.8 M299.9,615.9 L502.5,615.9 M324.3,615.9 L324.3,1033.0 M383.7,698.3 L507.0,698.3 M409.1,698.3 L409.1,1033.0 M299.9,1033.0 L635.6,1033.0 M463.7,928.0 L463.7,1087.6 M829.8,939.5 L829.8,1087.6 M463.7,1076.8 L829.8,1076.8 M944.5,327.6 L1169.7,327.6 M984.8,327.6 L984.8,1031.2 M944.5,1031.2 L1264.0,1031.2 M1239.5,506.6 L1239.5,628.0 M1438.9,506.6 L1438.9,748.3 M1239.5,531.2 L1438.9,531.2"/>
<g class="a"><polygon points="450.4,160.0 463.4,154.4 461.2,160.0 463.4,165.6"/><polygon points="845.3,160.0 832.3,154.4 834.5,160.0 832.3,165.6"/><polygon points="515.8,254.1 528.4,248.5 526.3,254.1 528.4,259.7"/><polygon points="775.8,254.1 763.2,248.5 765.3,254.1 763.2,259.7"/><polygon points="558.9,314.3 571.3,309.1 569.2,314.3 571.3,319.5"/><polygon points="732.1,314.3 719.7,309.1 721.8,314.3 719.7,319.5"/><polygon points="493.5,710.8 504.5,706.2 502.6,710.8 504.5,715.4"/><polygon points="802.5,710.8 791.5,706.2 793.4,710.8 791.5,715.4"/><polygon points="324.3,615.9 319.3,627.4 324.3,625.4 329.3,627.4"/><polygon points="324.3,1033.0 319.3,1021.5 324.3,1023.5 329.3,1021.5"/><polygon points="409.1,698.3 404.1,709.8 409.1,707.8 414.1,709.8"/><polygon points="409.1,1033.0 404.1,1021.5 409.1,1023.5 414.1,1021.5"/><polygon points="463.7,1076.8 475.5,1071.8 473.5,1076.8 475.5,1081.8"/><polygon points="829.8,1076.8 818.0,1071.8 820.0,1076.8 818.0,1081.8"/><polygon points="984.8,327.6 979.0,340.1 984.8,338.0 990.6,340.1"/><polygon points="984.8,1031.2 979.0,1018.7 984.8,1020.8 990.6,1018.7"/><polygon points="1239.5,531.2 1250.7,526.4 1248.8,531.2 1250.7,536.0"/><polygon points="1438.9,531.2 1427.7,526.4 1429.6,531.2 1427.7,536.0"/></g>
<g class="t"><text x="647.3" y="145.6" font-size="44.5">655 - 680</text>
<text x="645.2" y="241.4" font-size="44.5">495</text>
<text x="645.5" y="303.7" font-size="44.5">325</text>
<text x="648.8" y="744.4" font-size="44.5">515</text>
<text x="646.6" y="1113.2" font-size="44.5">645</text>
<text x="1339.2" y="509.3" font-size="44.5">390 - 425</text>
<text transform="translate(312.2 824.0) rotate(-90)" font-size="44.5">595 - 785</text>
<text transform="translate(399.4 866.2) rotate(-90)" font-size="44.5">450 - 535</text>
<text transform="translate(972.5 678.5) rotate(-90)" font-size="44.5">1135 - 1365</text></g>
</svg>
</body></html>
